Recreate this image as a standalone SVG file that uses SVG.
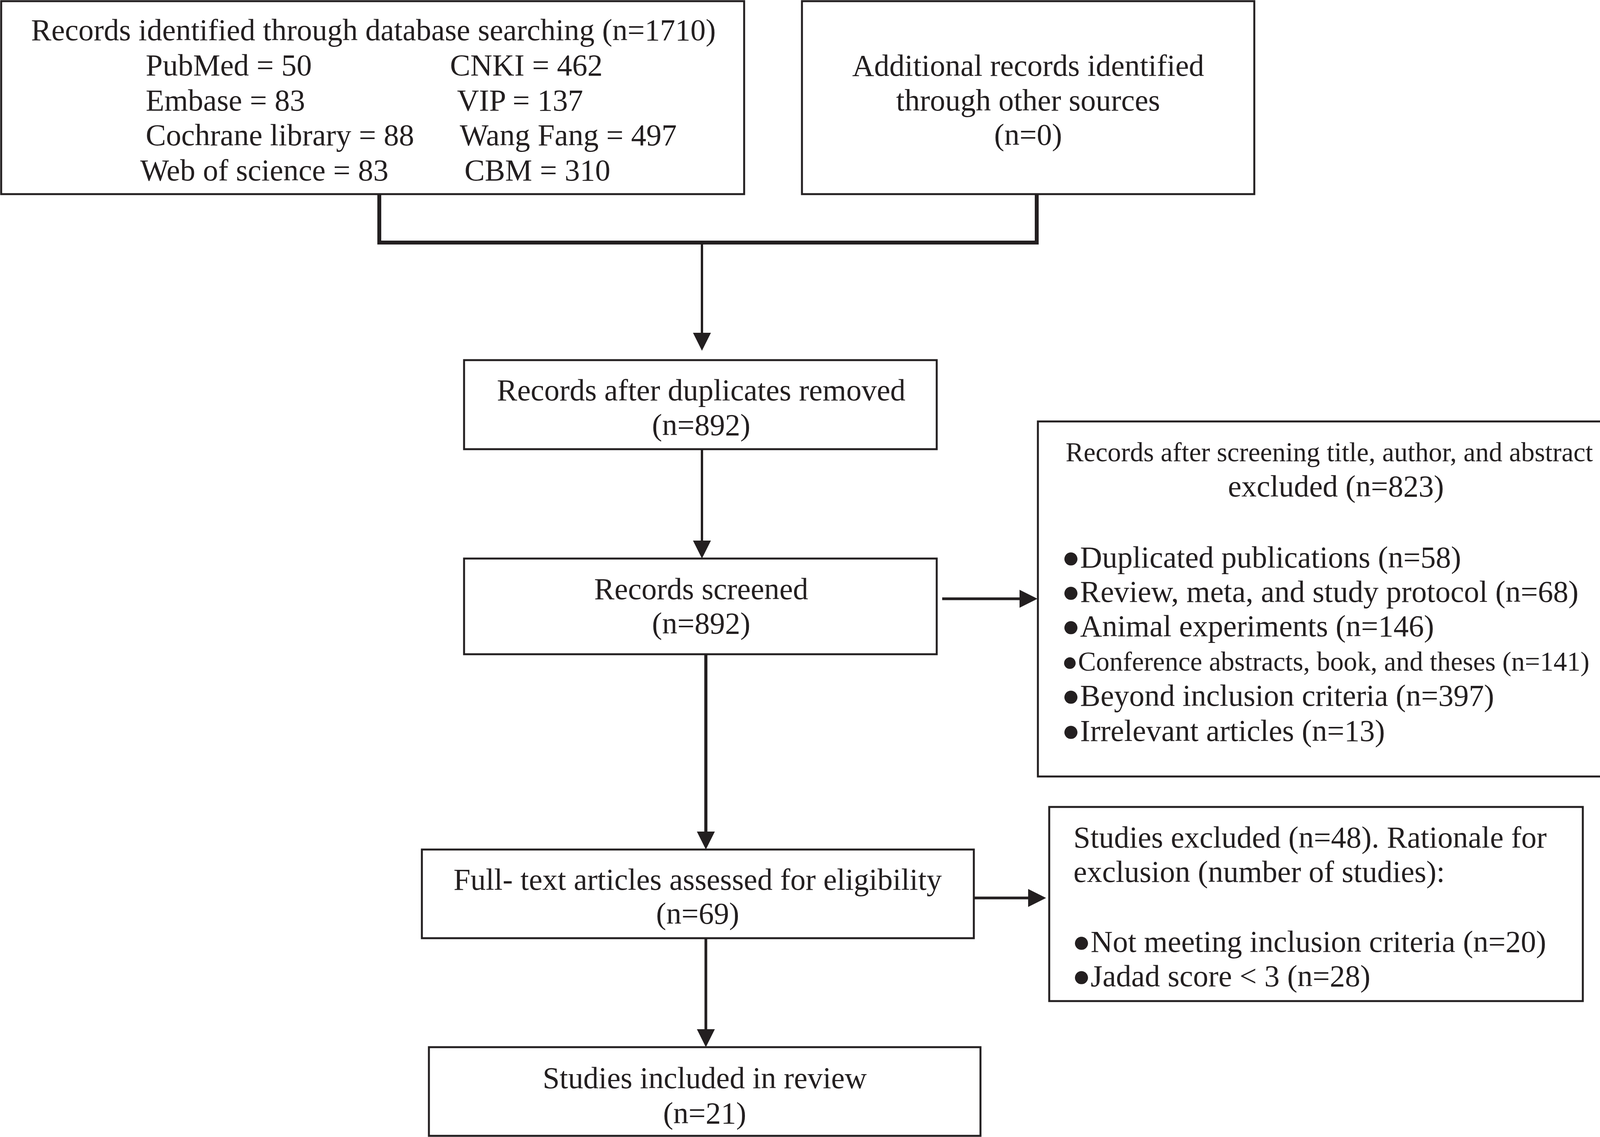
<svg xmlns="http://www.w3.org/2000/svg" width="4321" height="2911" viewBox="0 0 4321 2911">
<defs>
<style>
.box{fill:#ffffff;stroke:#231f20;stroke-width:5}
.t{font-family:"Liberation Serif","Times New Roman",serif;font-size:78px;fill:#231f20}
.s{font-size:69px}
.c{text-anchor:middle}
.ln{fill:none;stroke:#231f20;stroke-linecap:butt;stroke-linejoin:miter}
</style>
<marker id="ah" markerUnits="userSpaceOnUse" markerWidth="46" markerHeight="46" refX="0" refY="23" orient="auto" viewBox="0 0 46 46">
<path d="M0,0 L46,23 L0,46 Z" fill="#231f20"/>
</marker>
</defs>
<rect width="4321" height="2911" fill="#ffffff"/>

<g id="connectors">
<path class="ln" style="stroke-width:10" d="M971,497 V621 H2654 V497"/>
<path class="ln" style="stroke-width:6" d="M1797,621 V852" marker-end="url(#ah)"/>
<path class="ln" style="stroke-width:6" d="M1797,1150 V1384" marker-end="url(#ah)"/>
<path class="ln" style="stroke-width:8" d="M1807,1675 V2129" marker-end="url(#ah)"/>
<path class="ln" style="stroke-width:7" d="M1807,2402 V2635" marker-end="url(#ah)"/>
<path class="ln" style="stroke-width:7" d="M2412,1533 H2610" marker-end="url(#ah)"/>
<path class="ln" style="stroke-width:7" d="M2493,2299 H2632" marker-end="url(#ah)"/>
</g>

<g id="db-search">
<rect class="box" x="3" y="3" width="1902" height="494"/>
<text class="t c" x="956" y="103">Records identified through database searching (n=1710)</text>
<text class="t" x="373" y="193">PubMed = 50</text>
<text class="t" x="1152" y="193">CNKI = 462</text>
<text class="t" x="373" y="283">Embase = 83</text>
<text class="t" x="1170" y="283">VIP = 137</text>
<text class="t" x="373" y="372">Cochrane library = 88</text>
<text class="t" x="1177" y="372">Wang Fang = 497</text>
<text class="t" x="359" y="462">Web of science = 83</text>
<text class="t" x="1189" y="462">CBM = 310</text>
</g>

<g id="other-sources">
<rect class="box" x="2053" y="3" width="1158" height="494"/>
<text class="t c" x="2632" y="194">Additional records identified</text>
<text class="t c" x="2632" y="283">through other sources</text>
<text class="t c" x="2632" y="371">(n=0)</text>
</g>

<g id="duplicates-removed">
<rect class="box" x="1188" y="922" width="1210" height="228"/>
<text class="t c" x="1795" y="1025">Records after duplicates removed</text>
<text class="t c" x="1795" y="1114">(n=892)</text>
</g>

<g id="screened">
<rect class="box" x="1188" y="1430" width="1210" height="245"/>
<text class="t c" x="1795" y="1534">Records screened</text>
<text class="t c" x="1795" y="1622">(n=892)</text>
</g>

<g id="excluded-screening">
<rect class="box" x="2657" y="1079" width="1659" height="909"/>
<text class="t s" x="2728" y="1181">Records after screening title, author, and abstract</text>
<text class="t c" x="3420" y="1271">excluded (n=823)</text>
<text class="t" x="2718" y="1453">●Duplicated publications (n=58)</text>
<text class="t" x="2718" y="1541">●Review, meta, and study protocol (n=68)</text>
<text class="t" x="2718" y="1629">●Animal experiments (n=146)</text>
<text class="t s" x="2718" y="1717">●Conference abstracts, book, and theses (n=141)</text>
<text class="t" x="2718" y="1807">●Beyond inclusion criteria (n=397)</text>
<text class="t" x="2718" y="1897">●Irrelevant articles (n=13)</text>
</g>

<g id="full-text">
<rect class="box" x="1080" y="2175" width="1413" height="227"/>
<text class="t c" x="1786" y="2278">Full- text articles assessed for eligibility</text>
<text class="t c" x="1786" y="2365">(n=69)</text>
</g>

<g id="studies-excluded">
<rect class="box" x="2686" y="2066" width="1366" height="497"/>
<text class="t" x="2748" y="2170">Studies excluded (n=48). Rationale for</text>
<text class="t" x="2748" y="2258">exclusion (number of studies):</text>
<text class="t" x="2745" y="2437">●Not meeting inclusion criteria (n=20)</text>
<text class="t" x="2745" y="2525">●Jadad score &lt; 3 (n=28)</text>
</g>

<g id="included">
<rect class="box" x="1098" y="2681" width="1412" height="227"/>
<text class="t c" x="1804" y="2786">Studies included in review</text>
<text class="t c" x="1804" y="2876">(n=21)</text>
</g>
</svg>
